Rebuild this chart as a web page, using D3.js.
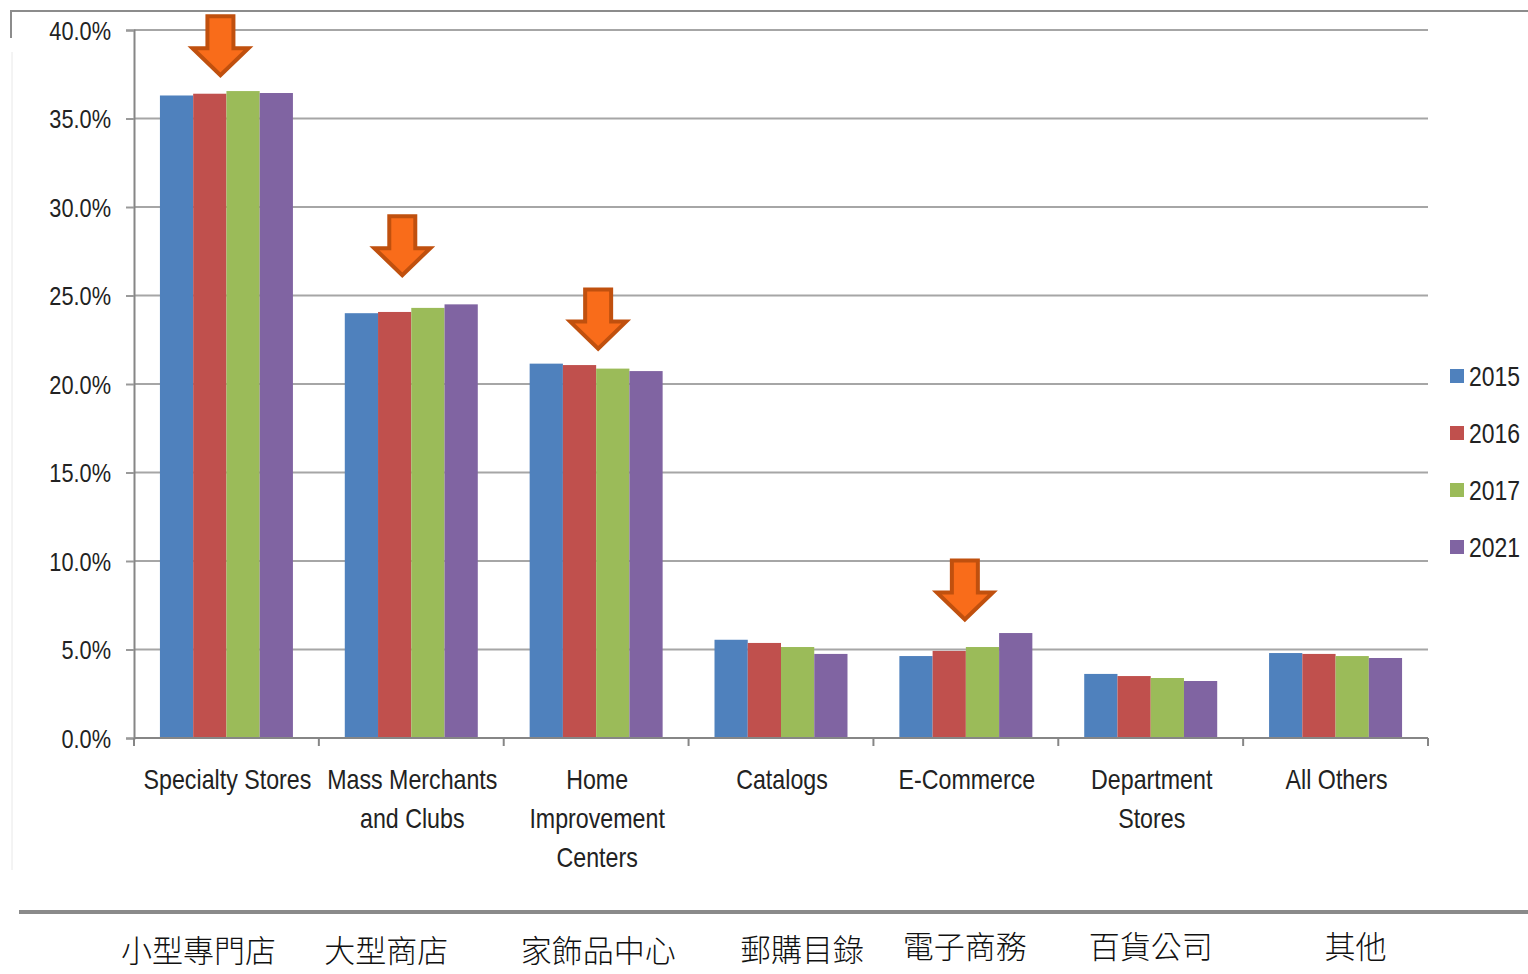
<!DOCTYPE html>
<html><head><meta charset="utf-8">
<script src="https://cdn.jsdelivr.net/npm/d3@7"></script>
<style>
html,body{margin:0;padding:0;background:#fff;}
svg{display:block;}
</style></head>
<body>
<svg id="c" width="1528" height="974"></svg>
<script>
const categories = [["Specialty Stores"],["Mass Merchants","and Clubs"],["Home","Improvement","Centers"],["Catalogs"],["E-Commerce"],["Department","Stores"],["All Others"]];
const categoriesZh = ["小型專門店","大型商店","家飾品中心","郵購目錄","電子商務","百貨公司","其他"];
const years = ["2015","2016","2017","2021"];
const v2015 = [36.3, 24.0, 21.15, 5.55, 4.63, 3.62, 4.8];
const v2016 = [36.4, 24.07, 21.07, 5.37, 4.92, 3.5, 4.75];
const v2017 = [36.55, 24.3, 20.87, 5.14, 5.14, 3.39, 4.63];
const v2021 = [36.44, 24.5, 20.73, 4.75, 5.93, 3.22, 4.52];
const yTicks = [0,5,10,15,20,25,30,35,40];
const arrowCats = [0,1,2,4];
const arrowTips = [37.45, 26.15, 22.0, 6.7];
const colors = ["#4F81BD","#C0504D","#9BBB59","#8064A2"];

const series = [v2015,v2016,v2017,v2021];
const svg = d3.select("#c");
const font = "'Liberation Sans',Arial,sans-serif";
const L = 134, R = 1428, T = 30, B = 738;

const x = d3.scaleBand().domain(d3.range(categories.length)).range([L,R]).paddingInner(0).paddingOuter(0);
const inner = d3.scaleBand().domain(d3.range(years.length)).range([0, x.bandwidth()]).paddingOuter(0.78).paddingInner(0);
const y = d3.scaleLinear().domain([0,40]).range([B,T]);

function ctext(sel, px, py, sx, size, anchor){
  sel.attr("transform",`translate(${px},${py}) scale(${sx},1)`)
     .attr("font-family",font).attr("font-size",size).attr("text-anchor",anchor).attr("fill","#222");
  return sel;
}

// frame
svg.append("line").attr("x1",10).attr("x2",1528).attr("y1",11).attr("y2",11).attr("stroke","#8c8c8c").attr("stroke-width",2);
svg.append("line").attr("x1",11).attr("x2",11).attr("y1",11).attr("y2",38).attr("stroke","#8c8c8c").attr("stroke-width",2);
svg.append("line").attr("x1",12).attr("x2",12).attr("y1",52).attr("y2",870).attr("stroke","#e8e8e8").attr("stroke-width",1);

// gridlines
svg.append("g").selectAll("line").data(yTicks.filter(d=>d>0)).join("line")
  .attr("x1",L).attr("x2",R).attr("y1",d=>y(d)).attr("y2",d=>y(d))
  .attr("stroke","#a6a6a6").attr("stroke-width",2);

// y axis
const yAxis = d3.axisLeft(y).tickValues(yTicks).tickFormat(d => d.toFixed(1)+"%").tickSize(8);
const ga = svg.append("g").attr("transform",`translate(${L},0)`).call(yAxis);
ga.select(".domain").attr("stroke","#868686").attr("stroke-width",2);
ga.selectAll(".tick line").attr("stroke","#9a9a9a").attr("stroke-width",2);
ga.selectAll(".tick text").each(function(){
  const t = d3.select(this);
  t.attr("x",null).attr("dy",null);
  ctext(t, -23, 9, 0.87, 25, "end");
});

// bars
const g = svg.append("g");
series.forEach((s,si)=>{
  g.selectAll(null).data(s).join("rect")
    .attr("x",(d,i)=>x(i)+inner(si))
    .attr("width",inner.bandwidth())
    .attr("y",d=>y(d))
    .attr("height",d=>B-y(d))
    .attr("fill",colors[si]);
});

// x axis
svg.append("line").attr("x1",L).attr("x2",R).attr("y1",B).attr("y2",B).attr("stroke","#868686").attr("stroke-width",2);
svg.append("g").selectAll("line").data(d3.range(categories.length+1)).join("line")
  .attr("x1",i=>L+i*x.step()).attr("x2",i=>L+i*x.step()).attr("y1",B).attr("y2",B+8)
  .attr("stroke","#868686").attr("stroke-width",2);
const lab = svg.append("g").selectAll("g").data(categories).join("g");
lab.each(function(d,i){
  const gg = d3.select(this);
  d.forEach((line,li)=>{
    ctext(gg.append("text").text(line), x(i)+x.bandwidth()/2 + 1, 789 + li*39, 0.86, 27, "middle");
  });
});

// arrows
const aw = 13, hw = 28, hh = 27, len = 59;
const arrowShift = [-6, -9, 2, -1];
svg.append("g").selectAll("path").data(arrowCats).join("path")
  .attr("d",(c,k)=>{
    const cx = x(c)+x.bandwidth()/2 + arrowShift[k];
    const tip = y(arrowTips[k]);
    const top = tip - len, hs = tip - hh;
    return `M${cx-aw},${top}L${cx+aw},${top}L${cx+aw},${hs}L${cx+hw},${hs}L${cx},${tip}L${cx-hw},${hs}L${cx-aw},${hs}Z`;
  })
  .attr("fill","#F96C1A").attr("stroke","#C0500E").attr("stroke-width",4).attr("stroke-linejoin","miter");

// legend
const lg = svg.append("g").selectAll("g").data(years).join("g")
  .attr("transform",(d,i)=>`translate(1450,${376+i*57})`);
lg.append("rect").attr("x",0).attr("y",-7).attr("width",14).attr("height",14).attr("fill",(d,i)=>colors[i]);
lg.each(function(d){
  ctext(d3.select(this).append("text").text(d), 19, 10, 0.85, 27, "start");
});

// separator
svg.append("line").attr("x1",19).attr("x2",1528).attr("y1",912).attr("y2",912).attr("stroke","#8a8a8a").attr("stroke-width",4);

// chinese labels (layout offsets relative to band centres)
const zhDx = [-28,-25,2,21,-1,0,20];
const zhDy = [0,0,0,-1,-4,-4,-4];
svg.append("g").selectAll("text").data(categoriesZh).join("text")
  .attr("x",(d,i)=>x(i)+x.bandwidth()/2 + zhDx[i]).attr("y",(d,i)=>962 + zhDy[i])
  .attr("text-anchor","middle").attr("font-family","'Noto Sans CJK TC','Noto Sans CJK SC',sans-serif")
  .attr("font-weight",300).attr("font-size",31).attr("fill","#111").text(d=>d);
</script>
</body></html>
